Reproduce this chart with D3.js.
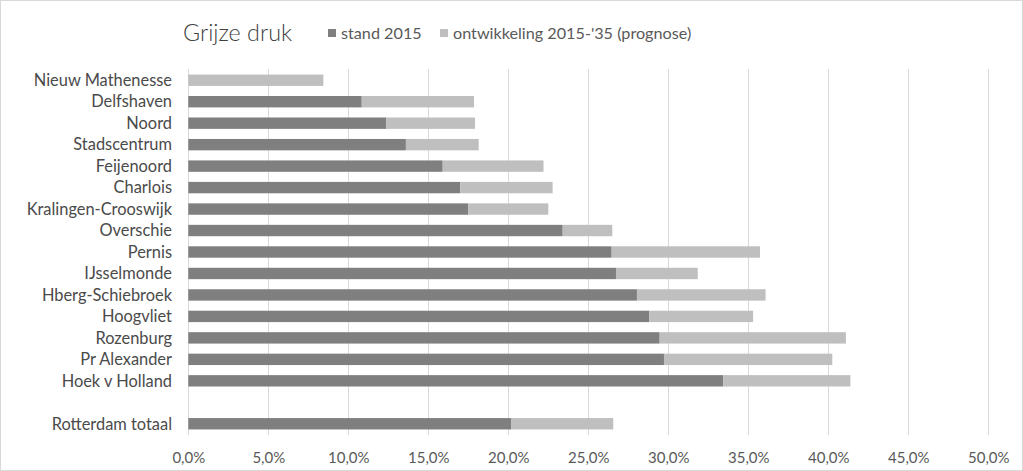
<!DOCTYPE html>
<html><head><meta charset="utf-8">
<script src="https://cdn.jsdelivr.net/npm/d3@7"></script>
<style>body{margin:0;background:#fff}svg{display:block}text{font-family:Lato,"Open Sans",sans-serif}</style>
</head><body><svg id="c" width="1023" height="471"></svg>
<script>
const categories = ["Nieuw Mathenesse","Delfshaven","Noord","Stadscentrum","Feijenoord","Charlois","Kralingen-Crooswijk","Overschie","Pernis","IJsselmonde","Hberg-Schiebroek","Hoogvliet","Rozenburg","Pr Alexander","Hoek v Holland","","Rotterdam totaal"];
const stand2015 = [0,0.1084,0.1238,0.136,0.159,0.170,0.175,0.234,0.2646,0.2673,0.2804,0.288,0.2946,0.2973,0.3344,null,0.2017];
const totaal2035 = [0.0844,0.1786,0.1792,0.1815,0.222,0.2277,0.225,0.265,0.3573,0.3184,0.3608,0.353,0.411,0.4025,0.4138,null,0.2656];
const ontwikkeling = totaal2035.map((t,i)=> t==null?null: +(t-stand2015[i]).toFixed(4));
const xTicks = [0,0.05,0.10,0.15,0.20,0.25,0.30,0.35,0.40,0.45,0.50];
const seriesNames = ["stand 2015","ontwikkeling 2015-'35 (prognose)"];
const colors = ["#7f7f7f","#bfbfbf"];

const svg = d3.select("#c");
const loc = d3.formatLocale({decimal:",",thousands:".",grouping:[3],currency:["€",""]});
const fmt = loc.format(".1%");

svg.append("rect").attr("x",0.5).attr("y",0.5).attr("width",1022).attr("height",470)
  .attr("fill","#fff").attr("stroke","#d9d9d9");

const x = d3.scaleLinear().domain([0,0.5]).range([188.3,988.3]);
const keys = categories.map((c,i)=> c===""? "__gap"+i : c);
const y = d3.scaleBand().domain(keys).range([69.5,434.5]).paddingInner(0.47).paddingOuter(0.235);

// gridlines
svg.append("g").selectAll("line").data(xTicks).join("line")
  .attr("x1",d=>Math.round(x(d))+0.5).attr("x2",d=>Math.round(x(d))+0.5)
  .attr("y1",69).attr("y2",435).attr("stroke","#d9d9d9").attr("stroke-width",1);

// axis labels
const ax = svg.append("g").attr("transform","translate(0,435)")
  .call(d3.axisBottom(x).tickValues(xTicks).tickFormat(fmt).tickSize(0).tickPadding(17));
ax.select(".domain").remove();
ax.selectAll("text").attr("font-family","Lato, sans-serif").attr("font-size",15).attr("fill","#595959");

// bars
const rows = categories.map((c,i)=>({key:keys[i],cat:c,s:stand2015[i],o:ontwikkeling[i]})).filter(d=>d.cat!=="");
const g = svg.append("g");
g.selectAll("rect.s").data(rows.filter(d=>d.s>0)).join("rect").attr("class","s")
  .attr("x",x(0)).attr("y",d=>y(d.key)).attr("height",y.bandwidth())
  .attr("width",d=>x(d.s)-x(0)).attr("fill",colors[0]);
g.selectAll("rect.o").data(rows).join("rect").attr("class","o")
  .attr("x",d=>x(d.s)).attr("y",d=>y(d.key)).attr("height",y.bandwidth())
  .attr("width",d=>x(d.s+d.o)-x(d.s)).attr("fill",colors[1]);

// category labels
svg.append("g").selectAll("text").data(rows).join("text")
  .attr("x",172).attr("y",d=>y(d.key)+y.bandwidth()/2).attr("dy","0.35em")
  .attr("text-anchor","end").attr("font-size",16.4).attr("fill","#4a4a4a").text(d=>d.cat);

// title
svg.append("text").attr("x",183).attr("y",41).attr("font-size",23.3).attr("font-weight",300)
  .attr("fill","#404040").text("Grijze druk");

// legend
const lx = [328,440];
seriesNames.forEach((n,i)=>{
  svg.append("rect").attr("x",lx[i]).attr("y",29).attr("width",8).attr("height",8).attr("fill",colors[i]);
  svg.append("text").attr("x",lx[i]+13).attr("y",38.5).attr("font-size",16.2).attr("fill","#595959").text(n);
});
</script></body></html>
